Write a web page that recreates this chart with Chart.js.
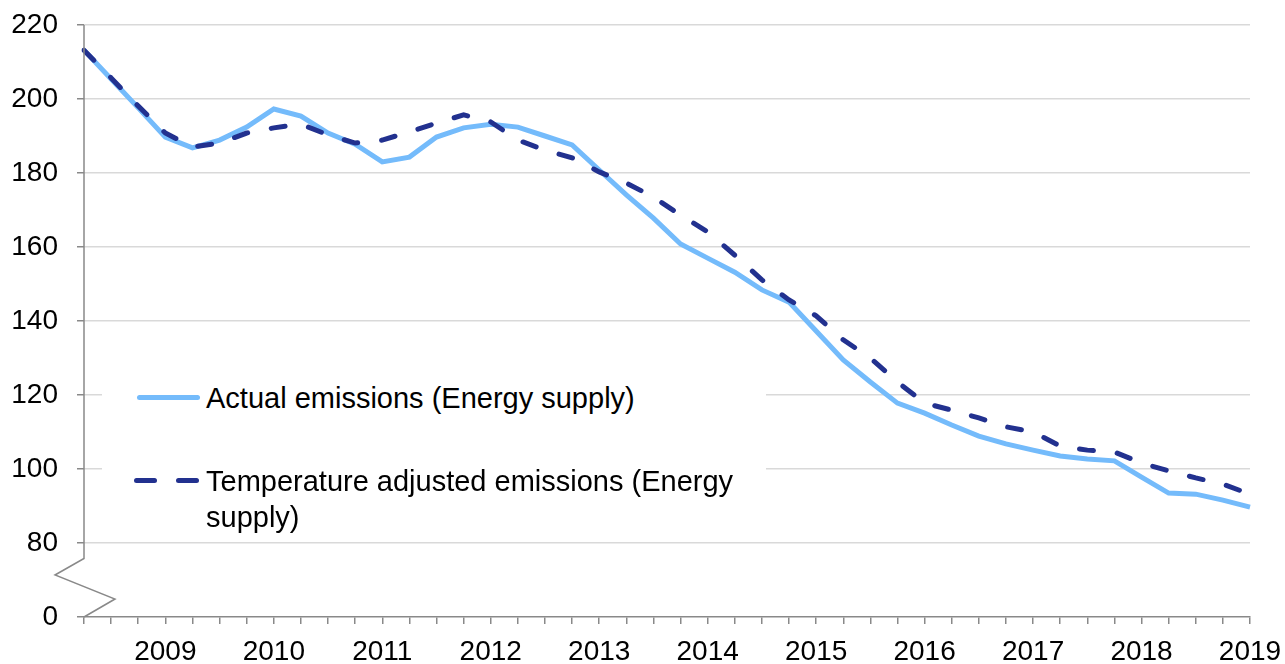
<!DOCTYPE html>
<html>
<head>
<meta charset="utf-8">
<title>Energy supply emissions</title>
<script src="https://cdn.jsdelivr.net/npm/chart.js@4.4.1/dist/chart.umd.min.js"></script>
<style>
  body { margin: 0; background: #fff; }
  #wrap { position: relative; width: 1285px; height: 664px; }
  #legendBox {
    position: absolute; left: 102px; top: 352px; width: 664px; height: 180px;
    background: #fff;
  }
  .legend-text {
    position: absolute; font-family: "Liberation Sans", Arial, sans-serif;
    font-size: 29px; line-height: 36px; color: #000;
  }
  .swatch { position: absolute; height: 5px; border-radius: 3px; }
</style>
</head>
<body>
<div id="wrap">
  <canvas id="emissionsChart" width="1285" height="664"></canvas>
  <div id="legendBox"></div>
  <div class="swatch" style="left:137px; top:395px; width:63px; background:#74bbfb;"></div>
  <div class="legend-text" id="legendActual" style="left:206px; top:380px;"></div>
  <div class="swatch" style="left:134px; top:478px; width:23px; background:#22318f;"></div>
  <div class="swatch" style="left:176px; top:478px; width:23px; background:#22318f;"></div>
  <div class="legend-text" id="legendAdjusted" style="left:206px; top:463px; width:560px;"></div>
</div>
<script>
// quarterly points, a year label on every fourth one
const quarterLabels = [
  "", "", "", "2009", "", "", "", "2010", "", "", "", "2011",
  "", "", "", "2012", "", "", "", "2013", "", "", "", "2014",
  "", "", "", "2015", "", "", "", "2016", "", "", "", "2017",
  "", "", "", "2018", "", "", "", "2019"
];

const actualEmissions = [
  213.2, 205.4, 197.6, 189.7, 186.8, 188.9, 192.4, 197.3, 195.4, 190.8, 187.8,
  183.0, 184.3, 189.7, 192.2, 193.2, 192.4, 190.0, 187.6, 180.8, 174.1, 167.8,
  160.8, 157.0, 153.2, 148.4, 145.1, 137.3, 129.5, 123.5, 117.8, 115.1, 111.9,
  108.9, 106.8, 105.1, 103.5, 102.7, 102.2, 97.8, 93.5, 93.2, 91.6, 89.7
];

const adjustedEmissions = [
  213.2, 205.7, 198.1, 190.8, 187.0, 188.1, 190.8, 192.2, 193.2, 190.3, 188.1,
  188.9, 191.1, 193.5, 195.7, 193.8, 188.9, 186.2, 184.1, 180.3, 177.3, 173.5,
  168.6, 164.1, 157.8, 151.1, 145.7, 141.4, 134.9, 130.0, 123.5, 117.8, 115.9,
  113.8, 111.4, 110.0, 106.2, 105.1, 104.6, 101.6, 99.5, 97.6, 95.9, 93.2
];

const seriesNames = [
  "Actual emissions (Energy supply)",
  "Temperature adjusted emissions (Energy supply)"
];

// the axis is cut below 80, the bottom tick stands for 0
const axisFloor = 60;
const axisColor = "#898989";
const gridColor = "#d9d9d9";

document.getElementById("legendActual").textContent = seriesNames[0];
document.getElementById("legendAdjusted").textContent = seriesNames[1];

const axisBreak = {
  id: "axisBreak",
  afterDraw(chart) {
    const { ctx, chartArea } = chart;
    const x = chartArea.left;
    const bottom = chartArea.bottom;

    ctx.save();
    ctx.strokeStyle = axisColor;
    ctx.lineWidth = 1.5;
    ctx.beginPath();
    ctx.moveTo(x, chartArea.top);
    ctx.lineTo(x, bottom - 58.5);
    ctx.lineTo(x - 29, bottom - 42);
    ctx.lineTo(x + 31, bottom - 18);
    ctx.lineTo(x, bottom);
    ctx.stroke();
    ctx.restore();
  }
};

const tickFont = { family: "'Liberation Sans', Arial, sans-serif", size: 28 };

new Chart(document.getElementById("emissionsChart"), {
  type: "line",
  data: {
    labels: quarterLabels,
    datasets: [
      {
        label: seriesNames[0],
        data: actualEmissions,
        borderColor: "#74bbfb",
        borderWidth: 5,
        pointRadius: 0,
        tension: 0,
        order: 2
      },
      {
        label: seriesNames[1],
        data: adjustedEmissions,
        borderColor: "#22318f",
        borderWidth: 5,
        borderDash: [14, 24],
        borderCapStyle: "round",
        pointRadius: 0,
        tension: 0,
        order: 1
      }
    ]
  },
  options: {
    responsive: false,
    animation: false,
    layout: { padding: { top: 25, right: 35, left: 0, bottom: 0 } },
    plugins: {
      legend: { display: false },
      tooltip: { enabled: false }
    },
    scales: {
      x: {
        type: "category",
        offset: false,
        afterFit(scale) {
          scale.height = 47;
          scale.paddingLeft = 0;
          scale.paddingRight = 0;
        },
        grid: {
          drawOnChartArea: false,
          drawTicks: true,
          tickLength: 7,
          color: axisColor,
          tickColor: axisColor,
          lineWidth: 1.5
        },
        border: { display: true, color: axisColor, width: 1.5 },
        ticks: {
          autoSkip: false,
          maxRotation: 0,
          padding: 11,
          color: "#000",
          font: tickFont
        }
      },
      y: {
        min: axisFloor,
        max: 220,
        afterFit(scale) {
          scale.width = 84;
          scale.paddingTop = 0;
          scale.paddingBottom = 0;
        },
        afterBuildTicks(scale) {
          scale.ticks = [60, 80, 100, 120, 140, 160, 180, 200, 220].map(v => ({ value: v }));
        },
        grid: {
          drawTicks: true,
          tickLength: 7,
          color: ctx => (ctx.tick && ctx.tick.value === axisFloor ? "rgba(0,0,0,0)" : gridColor),
          tickColor: axisColor,
          lineWidth: 1.5
        },
        border: { display: false },
        ticks: {
          padding: 19,
          color: "#000",
          font: tickFont,
          callback: value => (value === axisFloor ? "0" : value)
        }
      }
    }
  },
  plugins: [axisBreak]
});
</script>
</body>
</html>
